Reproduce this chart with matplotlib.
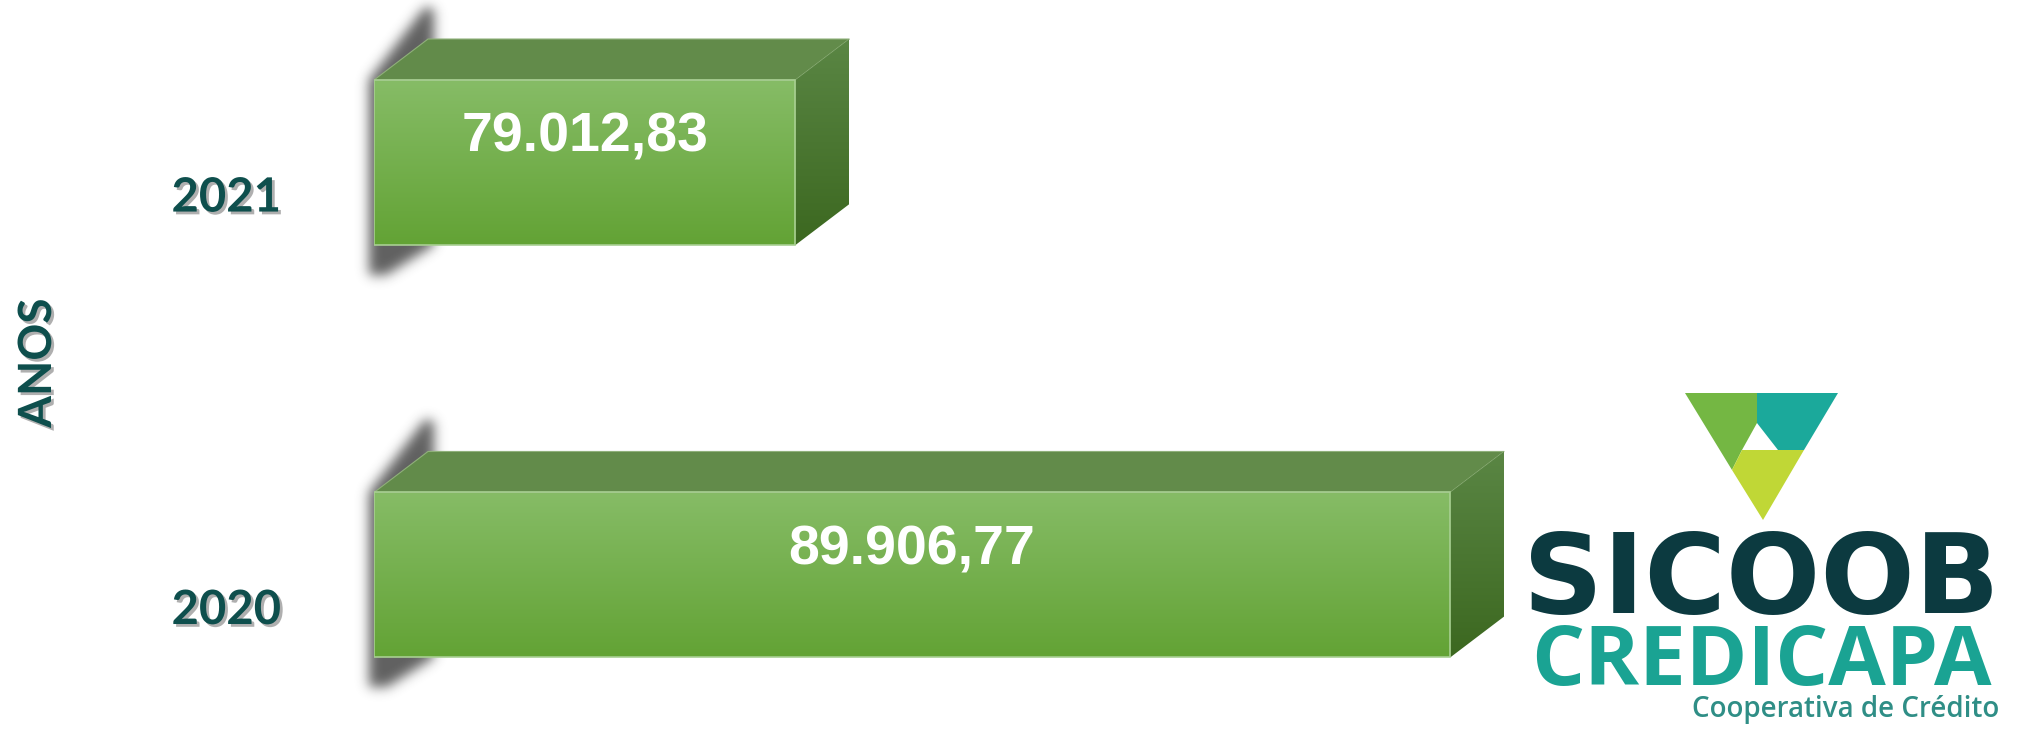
import matplotlib
matplotlib.use("Agg")
import matplotlib.pyplot as plt
import matplotlib.patheffects as pe
from matplotlib.patches import Polygon
from matplotlib.path import Path
import numpy as np

# Data
anos    = ["2020", "2021"]
valores = [89906.77, 79012.83]
rotulos = ["89.906,77", "79.012,83"]

W, H, DPI = 2017, 742, 100
fig = plt.figure(figsize=(W / DPI, H / DPI), dpi=DPI)
fig.patch.set_facecolor("white")

XMIN, XMAX = 72000, 92000
YMIN, YMAX = -0.405, 1.394
ax = fig.add_axes([374 / W, 0, 1202 / W, 1])
ax.set_xlim(XMIN, XMAX)
ax.set_ylim(YMIN, YMAX)
ax.axis("off")

# pixel -> data units
ux = (XMAX - XMIN) / 1202.0
uy = (YMAX - YMIN) / float(H)
DX, DY = 54 * ux, 41 * uy
BAR_H = 0.4


def soft_shadow(ax, pts, sigma=6, color=(0.22, 0.22, 0.22), alpha=0.8):
    # rasterise polygon in display pixels, blur it, draw as RGBA image
    disp = ax.transData.transform(pts)
    m = 4 * sigma
    x0, y0 = np.floor(disp.min(axis=0)) - m
    x1, y1 = np.ceil(disp.max(axis=0)) + m
    gx, gy = np.meshgrid(np.arange(x0, x1) + 0.5, np.arange(y0, y1) + 0.5)
    inside = Path(disp).contains_points(np.c_[gx.ravel(), gy.ravel()])
    mask = inside.reshape(gx.shape).astype(float)
    k = np.arange(-3 * sigma, 3 * sigma + 1)
    k = np.exp(-k ** 2 / (2.0 * sigma ** 2))
    k /= k.sum()
    mask = np.apply_along_axis(lambda r: np.convolve(r, k, mode="same"), 1, mask)
    mask = np.apply_along_axis(lambda c: np.convolve(c, k, mode="same"), 0, mask)
    rgba = np.zeros(mask.shape + (4,))
    rgba[..., :3] = color
    rgba[..., 3] = mask * alpha
    inv = ax.transData.inverted()
    (dx0, dy0), (dx1, dy1) = inv.transform([(x0, y0), (x1, y1)])
    im = ax.imshow(rgba, extent=[dx0, dx1, dy0, dy1], origin="lower", aspect="auto",
                   interpolation="bilinear", zorder=1)
    im.set_clip_on(False)


g = np.linspace(0, 1, 64)[:, None, None]
front_img = np.array([0x86, 0xBC, 0x66]) / 255 * (1 - g) + np.array([0x63, 0xA3, 0x35]) / 255 * g
side_img = np.array([0x5A, 0x86, 0x44]) / 255 * (1 - g) + np.array([0x3C, 0x68, 0x20]) / 255 * g

ys = np.arange(len(anos))
for y, v, lab, ano in zip(ys, valores, rotulos, anos):
    yb, yt = y - BAR_H / 2, y + BAR_H / 2

    soft_shadow(ax, [(XMIN - 5 * ux, yb - 30 * uy), (XMIN - 5 * ux, yt),
                     (XMIN + DX - 3 * ux, yt + DY + 32 * uy),
                     (XMIN + DX + 6 * ux, yt + DY + 30 * uy),
                     (XMIN + DX + 6 * ux, yb), (XMIN + 12 * ux, yb - 30 * uy)])

    # front face
    ax.barh(y, v - XMIN, left=XMIN, height=BAR_H, color="none",
            edgecolor="#A8CF92", linewidth=1.2, zorder=4)
    ax.imshow(front_img, extent=[XMIN, v, yb, yt], aspect="auto", zorder=3,
              interpolation="bilinear")

    # top face
    ax.add_patch(Polygon([(XMIN, yt), (v, yt), (v + DX, yt + DY), (XMIN + DX, yt + DY)],
                         closed=True, facecolor="#628B4A", edgecolor="#8FB07A",
                         linewidth=0.8, zorder=3))
    # right face
    side = Polygon([(v, yb), (v, yt), (v + DX, yt + DY), (v + DX, yb + DY)],
                   closed=True, facecolor="none", edgecolor="none", zorder=3)
    ax.add_patch(side)
    im = ax.imshow(side_img, extent=[v, v + DX, yb, yt + DY], aspect="auto",
                   zorder=3, interpolation="bilinear")
    im.set_clip_path(side)

    # value label
    ax.text((XMIN + v) / 2, y + 0.06, lab, ha="center", va="center",
            color="white", fontsize=40, fontweight="bold",
            family="Liberation Sans", zorder=6)

    # year label
    ax.text(-0.123, y - 0.085, ano, transform=ax.get_yaxis_transform(),
            ha="center", va="center", color="#0E4F4D", fontsize=34,
            fontweight="bold", family="Lato", zorder=6,
            path_effects=[pe.SimplePatchShadow(offset=(2, -2), shadow_rgbFace="#7A7A7A",
                                               alpha=0.6), pe.Normal()])

ax.set_xlim(XMIN, XMAX)
ax.set_ylim(YMIN, YMAX)

fig.text(38 / W, 1 - 363 / H, "ANOS", rotation=90, ha="center", va="center",
         color="#0E4F4D", fontsize=33, fontweight="bold", family="Lato",
         path_effects=[pe.SimplePatchShadow(offset=(2, -2), shadow_rgbFace="#7A7A7A",
                                            alpha=0.6), pe.Normal()])

# Logo (SICOOB CREDICAPA)
lg = fig.add_axes([1500 / W, 0, 517 / W, 362 / H])
lg.set_xlim(0, 517)
lg.set_ylim(362, 0)
lg.axis("off")
lg.add_patch(Polygon([(185, 13), (257, 13), (257, 43), (242, 70), (232, 90)],
                     closed=True, facecolor="#74B743", edgecolor="none"))
lg.add_patch(Polygon([(257, 13), (338, 13), (304, 70), (278, 70), (257, 43)],
                     closed=True, facecolor="#1BA99B", edgecolor="none"))
lg.add_patch(Polygon([(242, 70), (304, 70), (263, 140), (232, 90)],
                     closed=True, facecolor="#C0D736", edgecolor="none"))
lg.text(261, 233, "SICOOB", ha="center", va="baseline", color="#0C3A40",
        fontsize=80, fontweight="bold", family="DejaVu Sans")
lg.text(261, 305, "CREDICAPA", ha="center", va="baseline", color="#1AA393",
        fontsize=60, fontweight="bold", family="Open Sans")
lg.text(346, 337, "Cooperativa de Crédito", ha="center", va="baseline", color="#2F8E86",
        fontsize=20, fontweight="semibold", family="Open Sans")

fig.savefig("out.png", dpi=DPI, facecolor="white")
